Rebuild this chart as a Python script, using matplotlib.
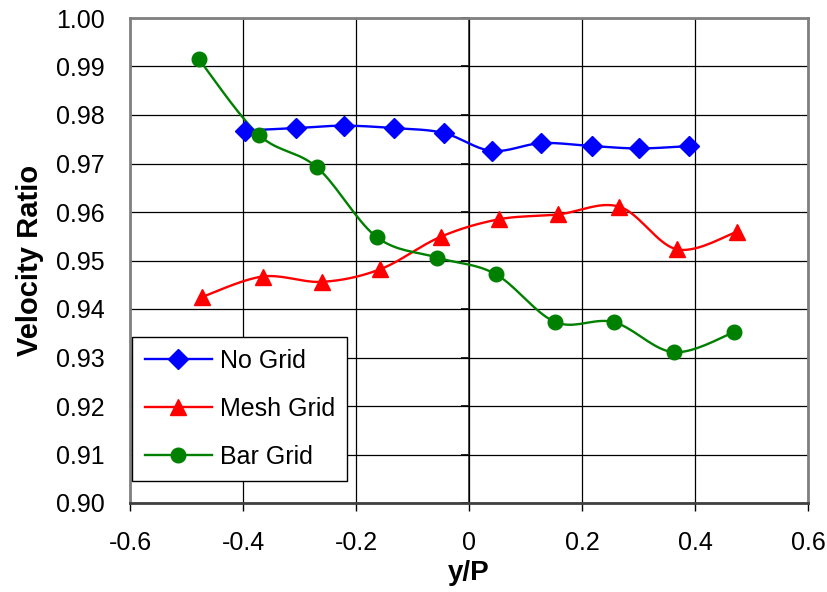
import numpy as np
import matplotlib
matplotlib.use('Agg')
import matplotlib.pyplot as plt

plt.rcParams['font.family'] = ['Liberation Sans', 'DejaVu Sans']

# data
x_nogrid = [-0.396, -0.306, -0.222, -0.133, -0.045, 0.040, 0.128, 0.218, 0.301, 0.390]
y_nogrid = [0.9768, 0.9773, 0.9778, 0.9773, 0.9763, 0.9726, 0.9742, 0.9736, 0.9731, 0.9736]

x_mesh = [-0.472, -0.365, -0.260, -0.157, -0.050, 0.053, 0.158, 0.266, 0.368, 0.474]
y_mesh = [0.9425, 0.9467, 0.9456, 0.9482, 0.9549, 0.9585, 0.9595, 0.9611, 0.9523, 0.9559]

x_bar = [-0.478, -0.372, -0.269, -0.163, -0.056, 0.047, 0.153, 0.256, 0.362, 0.469]
y_bar = [0.9915, 0.9759, 0.9692, 0.9548, 0.9506, 0.9472, 0.9373, 0.9373, 0.9311, 0.9352]

xlim = (-0.6, 0.6)
ylim = (0.90, 1.00)
W, H = 678.0, 485.0   # plot area in pixels


def smooth(x, y, n=20):
    # excel-like smoothing (catmull-rom bezier) done in screen space
    px = np.asarray(x) * W / (xlim[1] - xlim[0])
    py = np.asarray(y) * H / (ylim[1] - ylim[0])
    P = np.column_stack([px, py])
    P = np.vstack([P[0], P, P[-1]])
    out = []
    t = np.linspace(0, 1, n)[:, None]
    for i in range(1, len(P) - 2):
        p0 = P[i]
        p3 = P[i + 1]
        c1 = p0 + (P[i + 1] - P[i - 1]) / 6.0
        c2 = p3 - (P[i + 2] - P[i]) / 6.0
        seg = (1 - t)**3 * p0 + 3 * (1 - t)**2 * t * c1 + 3 * (1 - t) * t**2 * c2 + t**3 * p3
        out.append(seg if i == 1 else seg[1:])
    S = np.vstack(out)
    return S[:, 0] * (xlim[1] - xlim[0]) / W, S[:, 1] * (ylim[1] - ylim[0]) / H


fig = plt.figure(figsize=(8.27, 5.92), dpi=100)
ax = fig.add_axes([130/827, 89/592, 678/827, 485/592])

series = [
    (x_nogrid, y_nogrid, '#0000FF', 'D', 10, 'No Grid'),
    (x_mesh, y_mesh, '#FF0000', '^', 11.5, 'Mesh Grid'),
    (x_bar, y_bar, '#008000', 'o', 10.5, 'Bar Grid'),
]
handles = []
for xs, ys, col, mk, ms, lab in series:
    sx, sy = smooth(xs, ys)
    ax.plot(sx, sy, color=col, lw=1.7, zorder=3)
    ax.plot(xs, ys, ls='none', marker=mk, ms=ms, color=col, mec=col, zorder=4)
    h, = ax.plot([], [], color=col, lw=1.7, marker=mk, ms=ms, mec=col, label=lab)
    handles.append(h)

ax.set_xlim(xlim)
ax.set_ylim(ylim)
ax.set_xticks(np.arange(-0.6, 0.61, 0.2))
ax.set_xticklabels(['-0.6', '-0.4', '-0.2', '0', '0.2', '0.4', '0.6'])
ax.set_yticks(np.arange(0.90, 1.001, 0.01))
ax.set_yticklabels(['%.2f' % v for v in np.arange(0.90, 1.001, 0.01)])
ax.grid(True, color='black', lw=0.9)
ax.set_axisbelow(True)
ax.tick_params(axis='x', labelsize=18, length=6, width=1, direction='out', pad=14)
ax.tick_params(axis='y', labelsize=18, length=0, pad=18)
for s in ax.spines.values():
    s.set_color('#808080')
    s.set_linewidth(2)
ax.spines['bottom'].set_color('#404040')

# vertical axis crossing at x = 0, ticks pointing left
sec = ax.secondary_yaxis(0.5)
sec.set_yticks(np.arange(0.90, 1.001, 0.01))
sec.tick_params(length=6, width=1.2, direction='in', labelleft=False,
                labelright=False, color='black')
for s in sec.spines.values():
    s.set_color('#303030')
    s.set_linewidth(1.2)

ax.set_xlabel('y/P', fontsize=20, fontweight='bold', labelpad=4)
ax.set_ylabel('Velocity Ratio', fontsize=21, fontweight='bold', labelpad=9)

leg = ax.legend(handles=handles, loc='lower left', bbox_to_anchor=(0.003, 0.045),
                borderaxespad=0, fontsize=18, fancybox=False, framealpha=1,
                edgecolor='black', handlelength=2.7, handletextpad=0.3,
                labelspacing=0.95, borderpad=0.5)
leg.get_frame().set_linewidth(1)

fig.savefig('out.png', dpi=100)
